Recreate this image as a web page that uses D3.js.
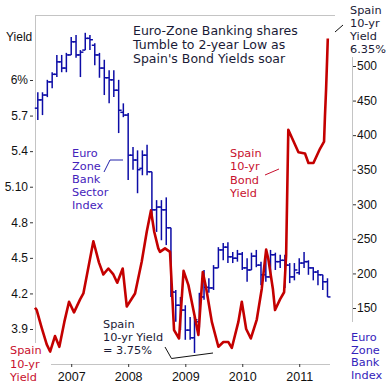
<!DOCTYPE html>
<html>
<head>
<meta charset="utf-8">
<script src="https://cdn.jsdelivr.net/npm/d3@7"></script>
<style>
body { margin: 0; background: #fff; }
svg text { font-family: "DejaVu Sans", Verdana, sans-serif; }
</style>
</head>
<body>
<div id="chart"></div>
<script>
// spain 10-yr bond yield (%)
var yield_dates = ["2006-05-14","2006-05-25","2006-06-26","2006-07-28","2006-08-19","2006-09-19","2006-10-17","2006-11-18","2006-12-18",
    "2007-01-19","2007-02-27","2007-03-20","2007-04-27","2007-05-23","2007-06-28","2007-07-26","2007-08-27","2007-09-28","2007-10-23","2007-11-27","2007-12-23",
    "2008-02-14","2008-03-28","2008-04-29","2008-05-26","2008-06-16","2008-07-12","2008-07-23","2008-08-24","2008-09-25","2008-10-21","2008-11-22","2008-12-21",
    "2009-01-21","2009-02-22","2009-03-26","2009-04-23","2009-05-14","2009-06-20","2009-08-01","2009-09-02","2009-10-04","2009-10-26","2009-12-07","2009-12-29",
    "2010-01-26","2010-02-25","2010-04-04","2010-05-06","2010-06-03","2010-06-17","2010-07-16","2010-07-30","2010-08-31","2010-09-26","2010-10-09","2010-10-15","2010-10-23","2010-12-27",
    "2011-02-07","2011-03-01","2011-04-02","2011-05-14","2011-06-09","2011-06-15","2011-06-22","2011-06-28","2011-07-03"];
var yield_values = [4.08,4.06,3.91,3.77,3.71,3.84,3.75,3.96,4.13,
    4.04,4.15,4.20,4.46,4.64,4.46,4.36,4.41,4.36,4.29,4.41,4.09,
    4.20,4.47,4.72,4.90,4.72,4.58,4.55,4.58,4.55,3.89,3.82,4.39,
    4.27,4.06,3.85,4.38,4.25,3.96,3.75,3.79,3.79,3.74,3.96,4.13,
    3.90,3.82,3.98,4.24,4.57,4.49,4.24,4.06,4.15,4.21,4.52,4.97,5.58,5.39,
    5.38,5.30,5.30,5.42,5.48,5.70,5.92,6.15,6.35];

// euro zone bank sector index, monthly bars (open / high / low / close)
var bank_months = ["2006-06","2006-07","2006-08","2006-09","2006-10","2006-11","2006-12",
    "2007-01","2007-02","2007-03","2007-04","2007-05","2007-06","2007-07","2007-08","2007-09","2007-10","2007-11","2007-12",
    "2008-01","2008-02","2008-03","2008-04","2008-05","2008-06","2008-07","2008-08","2008-09","2008-10","2008-11","2008-12",
    "2009-01","2009-02","2009-03","2009-04","2009-05","2009-06","2009-07","2009-08","2009-09","2009-10","2009-11","2009-12",
    "2010-01","2010-02","2010-03","2010-04","2010-05","2010-06","2010-07","2010-08","2010-09","2010-10","2010-11","2010-12",
    "2011-01","2011-02","2011-03","2011-04","2011-05","2011-06","2011-07"];
var bank_open = [439,451,458,477,488,506,497,
    516,535,516,523,540,530,516,497,483,480,465,433,
    429,371,364,352,371,347,292,296,292,266,173,154,
    147,118,107,130,166,180,179,208,234,238,224,222,
    228,208,205,225,212,198,195,227,217,219,212,195,
    201,215,217,208,202,198,188];
var bank_high = [462,462,480,491,516,516,519,
    542,545,523,548,545,533,519,509,494,494,480,446,
    432,383,378,378,386,347,306,306,310,266,176,166,
    154,137,137,172,205,193,212,238,244,245,231,234,
    231,222,230,234,217,230,234,230,227,227,215,215,
    222,231,219,209,205,198,193];
var bank_low = [422,429,455,468,484,491,491,
    516,512,484,523,523,501,483,458,446,455,403,426,
    335,350,316,342,342,282,260,248,241,166,130,118,
    104,104,85,122,162,172,176,208,219,215,215,217,
    205,188,205,209,183,188,193,205,208,179,186,190,
    198,208,198,190,183,176,166];
var bank_close = [451,458,477,488,506,497,516,
    535,516,520,540,538,516,497,483,480,465,436,429,
    371,364,350,371,347,292,296,292,266,173,154,147,
    118,107,133,166,180,179,208,234,238,224,222,228,
    208,205,225,212,198,195,227,217,219,212,195,205,
    215,217,208,202,198,188,166];

// axis ticks
var left_ticks = [6, 5.7, 5.4, 5.1, 4.8, 4.5, 4.2, 3.9];
var right_ticks = [500, 450, 400, 350, 300, 250, 200, 150];
var year_ticks = ["2007", "2008", "2009", "2010", "2011"];

var parse_day = d3.timeParse("%Y-%m-%d");
var parse_month = d3.timeParse("%Y-%m");
var parse_year = d3.timeParse("%Y");

var svg = d3.select("#chart").append("svg")
    .attr("width", 391)
    .attr("height", 384);

// scales
var x = d3.scaleTime()
    .domain([parse_day("2006-05-14"), parse_day("2011-08-31")])
    .range([35, 337]);
var y_left = d3.scaleLinear().domain([3.9, 6]).range([329, 80]);
var y_right = d3.scaleLinear().domain([150, 500]).range([308, 66]);

// frame lines
var grey = "#c4c4c4";
svg.append("line").attr("x1", 35).attr("x2", 335).attr("y1", 15.5).attr("y2", 15.5).attr("stroke", grey);
svg.append("line").attr("x1", 35.5).attr("x2", 35.5).attr("y1", 15).attr("y2", 343).attr("stroke", grey);
svg.append("line").attr("x1", 51).attr("x2", 330).attr("y1", 364.5).attr("y2", 364.5).attr("stroke", grey);
svg.append("line").attr("x1", 352.5).attr("x2", 352.5).attr("y1", 57).attr("y2", 322).attr("stroke", grey);

function style_axis(g, size) {
    g.select(".domain").remove();
    g.selectAll(".tick line").attr("stroke", "#333");
    g.selectAll(".tick text")
        .attr("fill", "#111")
        .style("font-family", "'Liberation Sans', Arial, sans-serif")
        .style("font-size", size + "px");
}

// left axis (yield)
var left_axis = svg.append("g")
    .attr("transform", "translate(33,0)")
    .call(d3.axisLeft(y_left).tickValues(left_ticks).tickSize(3).tickPadding(2)
        .tickFormat(function(d) {
            if (d == 6) { return "6%"; }
            if (d == 5.1) { return "5.10"; }
            return d3.format(".1f")(d);
        }));
style_axis(left_axis, 12);

// right axis (bank index)
var right_axis = svg.append("g")
    .attr("transform", "translate(353,0)")
    .call(d3.axisRight(y_right).tickValues(right_ticks).tickSize(3).tickPadding(1));
style_axis(right_axis, 12);

// bottom axis (years)
var bottom_axis = svg.append("g")
    .attr("transform", "translate(0,364)")
    .call(d3.axisBottom(x).tickValues(year_ticks.map(parse_year)).tickSize(3).tickPadding(5)
        .tickFormat(d3.timeFormat("%Y")));
style_axis(bottom_axis, 12.5);

// bank index bars
var bars = bank_months.map(function(m, i) {
    return {date: parse_month(m), open: bank_open[i], high: bank_high[i], low: bank_low[i], close: bank_close[i]};
});
var bar_color = "#0c0ca6";
var bar_g = svg.append("g").attr("stroke", bar_color).attr("stroke-width", 1.5);
bar_g.selectAll(".hl").data(bars).enter().append("line")
    .attr("x1", function(d) { return x(d.date); })
    .attr("x2", function(d) { return x(d.date); })
    .attr("y1", function(d) { return y_right(d.high); })
    .attr("y2", function(d) { return y_right(d.low); });
bar_g.selectAll(".op").data(bars).enter().append("line")
    .attr("x1", function(d) { return x(d.date) - 3; })
    .attr("x2", function(d) { return x(d.date); })
    .attr("y1", function(d) { return y_right(d.open); })
    .attr("y2", function(d) { return y_right(d.open); });
bar_g.selectAll(".cl").data(bars).enter().append("line")
    .attr("x1", function(d) { return x(d.date); })
    .attr("x2", function(d) { return x(d.date) + 3; })
    .attr("y1", function(d) { return y_right(d.close); })
    .attr("y2", function(d) { return y_right(d.close); });

// spain yield line
var yield_data = yield_dates.map(function(d, i) { return {date: parse_day(d), v: yield_values[i]}; });
var line = d3.line()
    .x(function(d) { return x(d.date); })
    .y(function(d) { return y_left(d.v); });
svg.append("path").datum(yield_data)
    .attr("d", line)
    .attr("fill", "none")
    .attr("stroke", "#c40000")
    .attr("stroke-width", 2.6)
    .attr("stroke-linejoin", "round");

// text blocks
function add_lines(lines, xpos, ypos, step, color, size) {
    var t = svg.append("text").attr("fill", color).style("font-size", size + "px");
    lines.forEach(function(s, i) {
        t.append("tspan").attr("x", xpos).attr("y", ypos + i * step).text(s);
    });
}

var dark = "#1a1a36";
add_lines(["Euro-Zone Banking shares", "Tumble to 2-year Low as", "Spain's Bond Yields soar"], 133, 34.5, 14, dark, 12.5);
add_lines(["Euro", "Zone", "Bank", "Sector", "Index"], 72, 157, 13, "#4422bb", 11.3);
add_lines(["Spain", "10-yr", "Bond", "Yield"], 230, 157, 13.3, "#c8102e", 11.3);
add_lines(["Spain", "10-yr Yield", "= 3.75%"], 103, 328, 13, dark, 11.3);
add_lines(["Spain", "10-yr", "Yield"], 10, 354, 13.5, "#c8102e", 11.3);
add_lines(["Euro", "Zone", "Bank", "Index"], 351, 341, 12.7, "#3322bb", 11.3);
add_lines(["Spain", "10-yr", "Yield", "6.35%"], 350, 13.5, 13, dark, 11.3);

svg.append("text").attr("x", 6).attr("y", 41).attr("fill", "#111")
    .style("font-family", "'Liberation Sans', Arial, sans-serif").style("font-size", "12px")
    .text("Yield");

// pointer lines
function pointer(pts, color) {
    svg.append("polyline")
        .attr("points", pts.map(function(p) { return p.join(","); }).join(" "))
        .attr("fill", "none").attr("stroke", color).attr("stroke-width", 1);
}
pointer([[104, 172], [110, 160], [123, 160]], "#2222aa");
pointer([[265, 175], [279, 169]], "#c8102e");
pointer([[165, 347], [171.5, 358.5], [213, 353]], "#111");
pointer([[335, 32], [343, 25]], "#111");
</script>
</body>
</html>
